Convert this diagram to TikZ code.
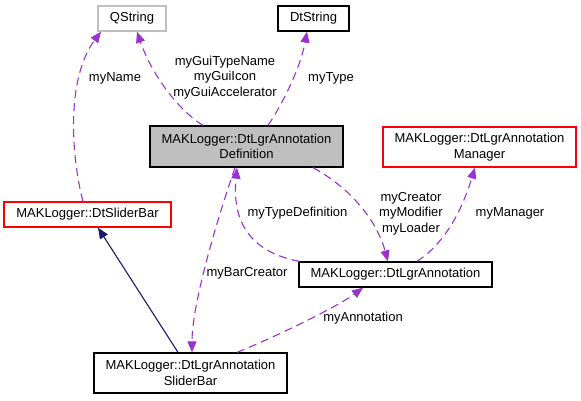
\documentclass[tikz,border=0pt]{standalone}
\usepackage{fontspec}
\setmainfont{Liberation Sans}
\usepackage{xcolor}
\usepackage{tikz}
\usetikzlibrary{arrows.meta}
\definecolor{edgepurple}{HTML}{9A32CD}
\definecolor{edgenavy}{HTML}{191970}
\definecolor{boxgray}{HTML}{BFBFBF}
\definecolor{boxred}{HTML}{FF0000}

\begin{document}
\begin{tikzpicture}[x=1pt, y=-1pt,
    every node/.style={font=\fontsize{13}{15.5}\selectfont, inner sep=0pt},
    box/.style={rectangle, draw=black, line width=1.3pt, align=center, minimum width=193pt},
    memberedge/.style={edgepurple, line width=1.1pt, dash pattern=on 8pt off 5pt, -{Triangle[length=11pt, width=9pt]}},
    inheritedge/.style={edgenavy, line width=1.1pt, -{Triangle[length=11pt, width=9pt]}}]
            \useasboundingbox (0, 0) rectangle (581, 400);

            \node[box, draw=boxgray, minimum width=68pt, minimum height=25pt] at (132, 18.5)  (qstring) {QString};
            \node[box, minimum width=71pt, minimum height=25pt] at (313.5, 18.5)  (dtstring) {DtString};
            \node[box, fill=boxgray, minimum height=41pt] at (246.5, 146.5)  (definition) {MAKLogger::DtLgrAnnotation\\Definition};
            \node[box, draw=boxred, minimum height=40pt] at (479.5, 147)  (manager) {MAKLogger::DtLgrAnnotation\\Manager};
            \node[box, draw=boxred, minimum width=167pt, minimum height=25pt] at (87.5, 214.5)  (sliderbar) {MAKLogger::DtSliderBar};
            \node[box, minimum height=25pt] at (395.5, 274.5)  (annotation) {MAKLogger::DtLgrAnnotation};
            \node[box, minimum height=40pt] at (190.5, 373)  (annsliderbar) {MAKLogger::DtLgrAnnotation\\SliderBar};

            \draw [memberedge] ([xshift=-43.5pt]definition.north) .. controls (175, 108) and (150, 70) .. ([xshift=5pt]qstring.south);
            \draw [memberedge] ([xshift=21.5pt]definition.north) .. controls (280, 108) and (300, 70) .. ([xshift=-6.5pt]dtstring.south);
            \draw [memberedge] ([xshift=-4.5pt]sliderbar.north) .. controls (72, 160) and (65, 80) .. ([xshift=-31pt]qstring.south);
            \draw [memberedge] ([xshift=-11.5pt]definition.south) .. controls (222, 205) and (192, 300) .. ([xshift=1.5pt]annsliderbar.north);
            \draw [memberedge] ([xshift=1pt]annotation.north west) .. controls (240, 250) and (233, 210) .. ([xshift=-9.5pt]definition.south);
            \draw [memberedge] ([xshift=66.5pt]definition.south) .. controls (345, 185) and (375, 215) .. ([xshift=-7.5pt]annotation.north);
            \draw [memberedge] ([xshift=21.5pt]annotation.north) .. controls (450, 240) and (465, 200) .. ([xshift=-4.5pt]manager.south);
            \draw [memberedge] ([xshift=46.5pt]annsliderbar.north) .. controls (280, 335) and (340, 305) .. ([xshift=-32.5pt]annotation.south);
            \draw [inheritedge] ([xshift=-12.5pt]annsliderbar.north) -- ([xshift=10.5pt]sliderbar.south);

            \node[align=center] at (225, 77.5)  (guilabel) {myGuiTypeName\\myGuiIcon\\myGuiAccelerator};
            \node at (331, 78)  (typelabel) {myType};
            \node at (115, 78)  (namelabel) {myName};
            \node[align=center] at (411, 213.5)  (creatorlabel) {myCreator\\myModifier\\myLoader};
            \node at (510, 213)  (managerlabel) {myManager};
            \node at (297.5, 213.5)  (typedeflabel) {myTypeDefinition};
            \node at (247, 273)  (barcreatorlabel) {myBarCreator};
            \node at (363, 318)  (annotationlabel) {myAnnotation};
        \end{tikzpicture}
\end{document}
